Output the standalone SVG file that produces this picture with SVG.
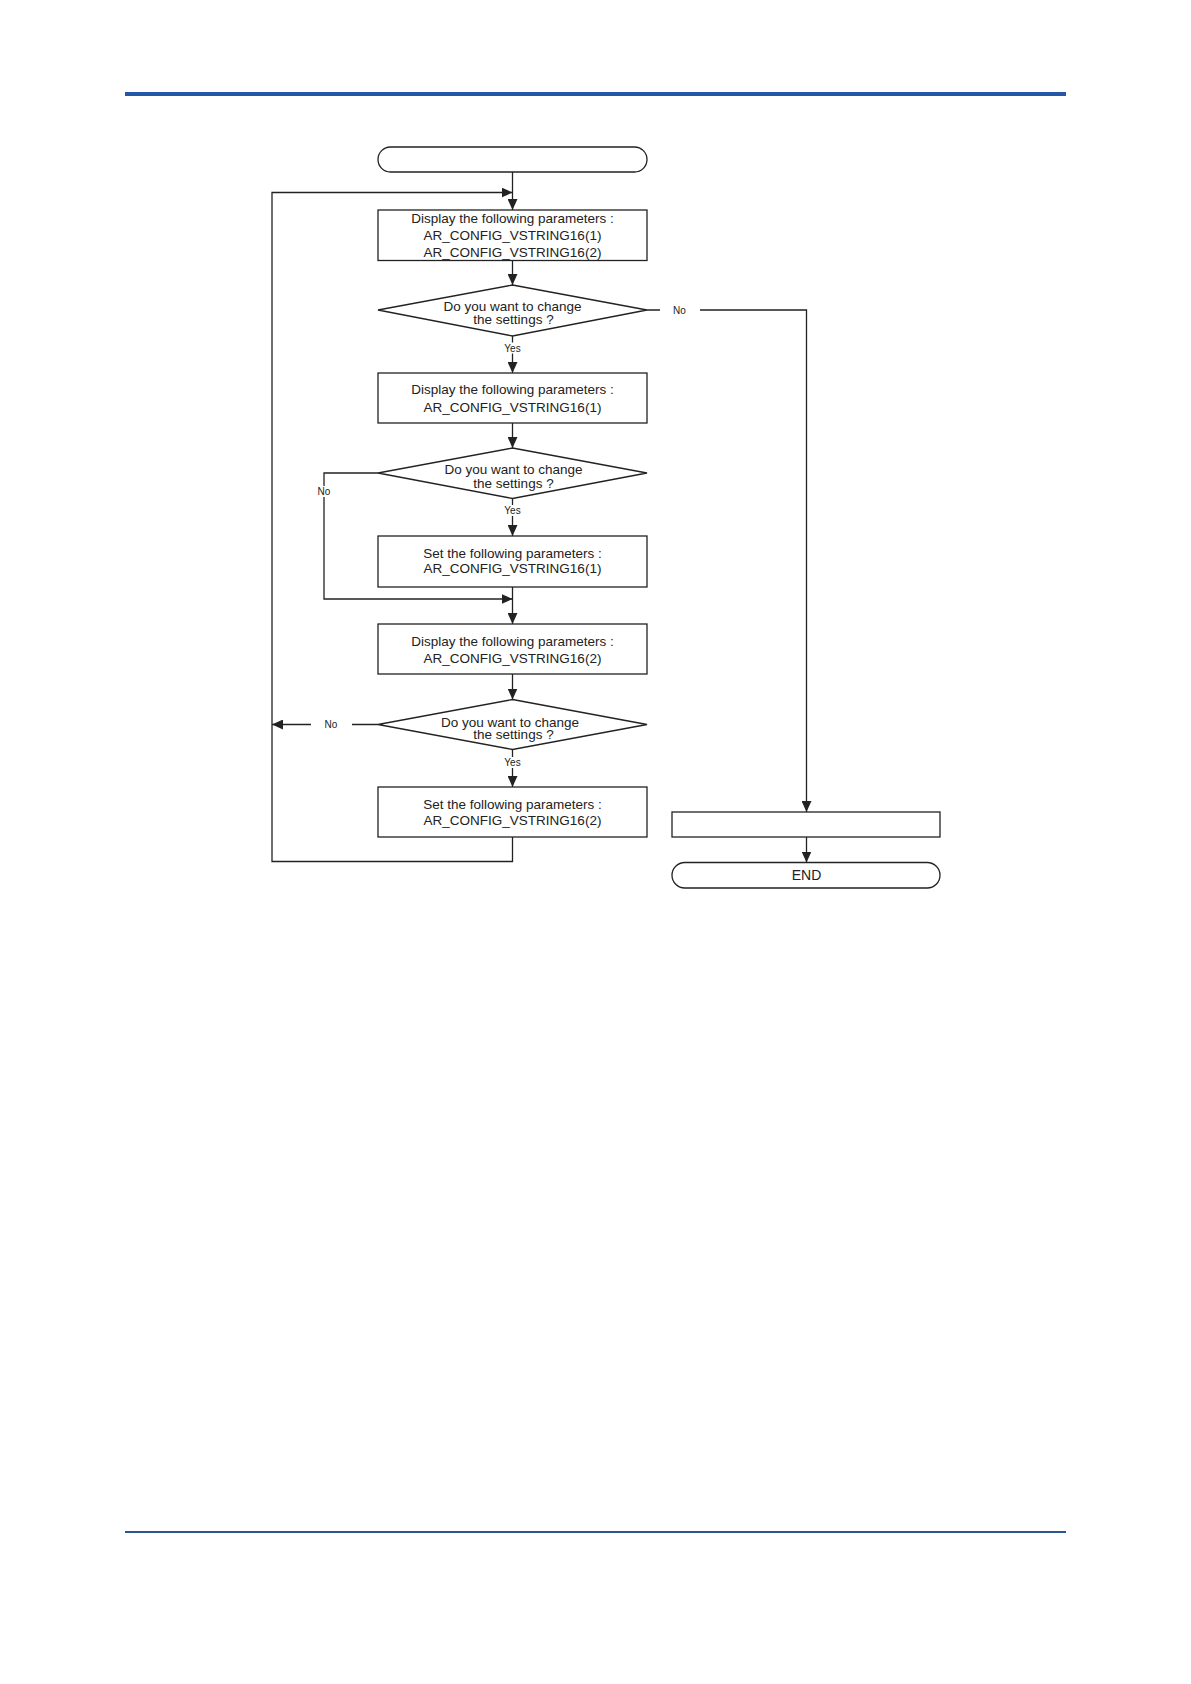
<svg xmlns="http://www.w3.org/2000/svg" width="1191" height="1684" viewBox="0 0 1191 1684">
<style>
.shape{fill:#fff;stroke:#222;stroke-width:1.3}
.line{fill:none;stroke:#222;stroke-width:1.3}
.arr{marker-end:url(#ah)}
.t{font-family:"Liberation Sans",Arial,sans-serif;font-size:13.5px;fill:#222;text-anchor:middle}
.s{font-family:"Liberation Sans",Arial,sans-serif;font-size:10px;fill:#222;text-anchor:middle}
.gap{fill:#fff;stroke:none}
</style>
<defs>
<marker id="ah" viewBox="0 0 11 10" refX="11" refY="5" markerWidth="11" markerHeight="10" markerUnits="userSpaceOnUse" orient="auto">
<path d="M0,0 L11,5 L0,10 z" fill="#222"/>
</marker>
</defs>
<rect x="0" y="0" width="1191" height="1684" fill="#fff"/>
<g id="page-rules">
<rect x="125" y="92" width="941" height="4" fill="#2457a6"/>
<rect x="125" y="1531" width="941" height="2" fill="#2b5591"/>
</g>
<g id="connectors">
<path class="line arr" d="M512.5 172 V210"/>
<path class="line arr" d="M512.5 837 V861.5 H272 V192.5 H512.5"/>
<path class="line arr" d="M512.5 260.5 V285"/>
<path class="line arr" d="M512.5 336 V373"/>
<path class="line arr" d="M647 310 H806.5 V812"/>
<path class="line arr" d="M512.5 423 V448"/>
<path class="line arr" d="M512.5 498.5 V536"/>
<path class="line arr" d="M378 473 H324 V599 H512.5"/>
<path class="line arr" d="M512.5 587 V624"/>
<path class="line arr" d="M512.5 674 V699.5"/>
<path class="line arr" d="M512.5 749.5 V787"/>
<path class="line arr" d="M378 724.5 H272"/>
<path class="line arr" d="M806.5 837 V862.5"/>
<rect class="gap" x="502" y="342.5" width="21" height="11"/>
<text class="s" x="512.5" y="351.5">Yes</text>
<rect class="gap" x="660" y="303" width="40" height="14"/>
<text class="s" x="679.5" y="313.5">No</text>
<rect class="gap" x="502" y="505" width="21" height="11"/>
<text class="s" x="512.5" y="514">Yes</text>
<rect class="gap" x="316" y="486" width="16" height="11"/>
<text class="s" x="324" y="495">No</text>
<rect class="gap" x="502" y="757" width="21" height="11"/>
<text class="s" x="512.5" y="766">Yes</text>
<rect class="gap" x="311" y="718" width="41" height="13"/>
<text class="s" x="331" y="727.5">No</text>
</g>
<g id="start">
<rect class="shape" x="378" y="147" width="269" height="25" rx="12.5"/>
</g>
<g id="box1">
<rect class="shape" x="378" y="210" width="269" height="50.5"/>
<text class="t" x="512.5" y="222.5">Display the following parameters :</text>
<text class="t" x="512.5" y="239.5">AR_CONFIG_VSTRING16(1)</text>
<text class="t" x="512.5" y="256.5">AR_CONFIG_VSTRING16(2)</text>
</g>
<g id="decision1">
<polygon class="shape" points="512.5,285 647,310 512.5,336 378,310"/>
<text class="t" x="512.5" y="310.5">Do you want to change</text>
<text class="t" x="513.5" y="324">the settings ?</text>
</g>
<g id="box2">
<rect class="shape" x="378" y="373" width="269" height="50"/>
<text class="t" x="512.5" y="394">Display the following parameters :</text>
<text class="t" x="512.5" y="411.5">AR_CONFIG_VSTRING16(1)</text>
</g>
<g id="decision2">
<polygon class="shape" points="512.5,448 647,473 512.5,498.5 378,473"/>
<text class="t" x="513.5" y="474">Do you want to change</text>
<text class="t" x="513.5" y="488">the settings ?</text>
</g>
<g id="box3">
<rect class="shape" x="378" y="536" width="269" height="51"/>
<text class="t" x="512.5" y="557.5">Set the following parameters :</text>
<text class="t" x="512.5" y="573">AR_CONFIG_VSTRING16(1)</text>
</g>
<g id="box4">
<rect class="shape" x="378" y="624" width="269" height="50"/>
<text class="t" x="512.5" y="645.5">Display the following parameters :</text>
<text class="t" x="512.5" y="662.5">AR_CONFIG_VSTRING16(2)</text>
</g>
<g id="decision3">
<polygon class="shape" points="512.5,699.5 647,724.5 512.5,749.5 378,724.5"/>
<text class="t" x="510" y="726.5">Do you want to change</text>
<text class="t" x="513.5" y="738.5">the settings ?</text>
</g>
<g id="box5">
<rect class="shape" x="378" y="787" width="269" height="50"/>
<text class="t" x="512.5" y="809">Set the following parameters :</text>
<text class="t" x="512.5" y="824.5">AR_CONFIG_VSTRING16(2)</text>
</g>
<g id="box6">
<rect class="shape" x="672" y="812" width="268" height="25"/>
</g>
<g id="end">
<rect class="shape" x="672" y="862.5" width="268" height="25.5" rx="12.75"/>
<text class="t" x="806.5" y="879.5" style="font-size:14px">END</text>
</g>
</svg>
